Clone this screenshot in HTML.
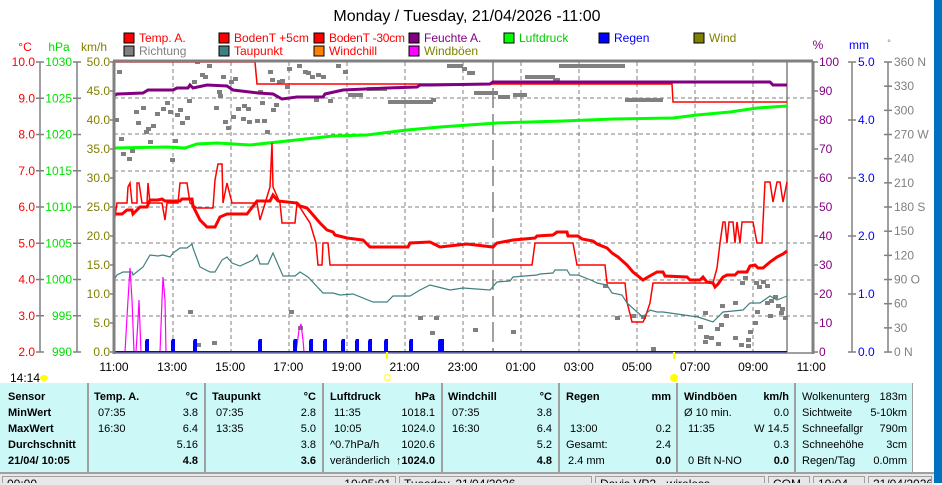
<!DOCTYPE html>
<html><head><meta charset="utf-8"><style>
body{margin:0;width:942px;height:483px;overflow:hidden;background:#fff;font-family:"Liberation Sans",sans-serif;position:relative}
.a{position:absolute;white-space:nowrap}
.pan{position:absolute;top:383px;height:89px;background:#ccf8f8}
.info{font-size:11px;color:#000}
.info .a{line-height:14px}
.b{font-weight:bold}
.sb{position:absolute;top:476px;height:7px;overflow:hidden;border:1px solid #a0a0a0;border-bottom:none;font-size:12px;line-height:14px;padding:0 4px;box-sizing:border-box;background:#e8e8e8}
</style></head><body>
<svg class="a" style="left:0;top:0" width="942" height="483" font-family="Liberation Sans, sans-serif">
<text x="467" y="21" font-size="16" text-anchor="middle">Monday / Tuesday, 21/04/2026  -11:00</text>
<g font-size="12">
<rect x="124" y="33" width="10" height="10" fill="#f00" stroke="#000"/><text x="139" y="42" fill="#f00">Temp. A.</text>
<rect x="219" y="33" width="10" height="10" fill="#f00" stroke="#000"/><text x="234" y="42" fill="#f00">BodenT +5cm</text>
<rect x="314" y="33" width="10" height="10" fill="#f00" stroke="#000"/><text x="329" y="42" fill="#f00" textLength="76">BodenT -30cm</text>
<rect x="409" y="33" width="10" height="10" fill="#800080" stroke="#000"/><text x="424" y="42" fill="#800080">Feuchte A.</text>
<rect x="504" y="33" width="10" height="10" fill="#00ff00" stroke="#000"/><text x="519" y="42" fill="#00cc00">Luftdruck</text>
<rect x="599" y="33" width="10" height="10" fill="#0000ff" stroke="#000"/><text x="614" y="42" fill="#0000ff">Regen</text>
<rect x="694" y="33" width="10" height="10" fill="#808000" stroke="#000"/><text x="709" y="42" fill="#808000">Wind</text>
<rect x="124" y="46" width="10" height="10" fill="#808080" stroke="#000"/><text x="139" y="55" fill="#808080">Richtung</text>
<rect x="219" y="46" width="10" height="10" fill="#408080" stroke="#000"/><text x="234" y="55" fill="#f00">Taupunkt</text>
<rect x="314" y="46" width="10" height="10" fill="#ff8000" stroke="#000"/><text x="329" y="55" fill="#f00">Windchill</text>
<rect x="409" y="46" width="10" height="10" fill="#ff00ff" stroke="#000"/><text x="424" y="55" fill="#808000">Windböen</text>
</g>
<g font-size="12">
<text x="25" y="51" fill="#f00" text-anchor="middle">°C</text>
<text x="59" y="51" fill="#00e000" text-anchor="middle">hPa</text>
<text x="94" y="51" fill="#808000" text-anchor="middle">km/h</text>
<text x="818" y="49" fill="#800080" text-anchor="middle">%</text>
<text x="859" y="49" fill="#0000ff" text-anchor="middle">mm</text>
<text x="889" y="46" fill="#808080" text-anchor="middle" font-size="9">°</text>
</g>
<g stroke="#808080" stroke-width="1.5">
<line x1="40" y1="62" x2="40" y2="352"/><line x1="77" y1="62" x2="77" y2="352"/>
<line x1="852" y1="62" x2="852" y2="352"/><line x1="888" y1="62" x2="888" y2="352"/>
</g>
<g font-size="12" id="ax"></g>
<g stroke="#808080" stroke-dasharray="4,3" stroke-width="1">
<line x1="114" x2="813" y1="98" y2="98"/><line x1="114" x2="813" y1="134" y2="134"/><line x1="114" x2="813" y1="171" y2="171"/><line x1="114" x2="813" y1="207" y2="207"/><line x1="114" x2="813" y1="243" y2="243"/><line x1="114" x2="813" y1="280" y2="280"/><line x1="114" x2="813" y1="316" y2="316"/>
<line x1="173" x2="173" y1="62" y2="352"/><line x1="231" x2="231" y1="62" y2="352"/><line x1="289" x2="289" y1="62" y2="352"/><line x1="347" x2="347" y1="62" y2="352"/><line x1="405" x2="405" y1="62" y2="352"/><line x1="463" x2="463" y1="62" y2="352"/><line x1="521" x2="521" y1="62" y2="352"/><line x1="579" x2="579" y1="62" y2="352"/><line x1="637" x2="637" y1="62" y2="352"/><line x1="695" x2="695" y1="62" y2="352"/><line x1="753" x2="753" y1="62" y2="352"/>
</g>
<line x1="493" x2="493" y1="62" y2="352" stroke="#808080" stroke-dasharray="20,6" stroke-width="1.5"/>
<line x1="787" x2="787" y1="62" y2="352" stroke="#808080" stroke-width="1.5"/>
<g fill="#808080" id="dots"></g>
<g stroke="#808080" stroke-width="4">
<line x1="348" x2="363" y1="95" y2="95"/><line x1="367" x2="387" y1="89" y2="89"/><line x1="388" x2="433" y1="102" y2="102"/>
<line x1="447" x2="463" y1="66" y2="66"/><line x1="462" x2="467" y1="69" y2="69"/><line x1="467" x2="475" y1="73" y2="73"/><line x1="525" x2="555" y1="77" y2="77"/><line x1="553" x2="560" y1="80" y2="80"/><line x1="474" x2="498" y1="93" y2="93"/><line x1="498" x2="510" y1="97" y2="97"/><line x1="513" x2="527" y1="95" y2="95"/><line x1="559" x2="625" y1="66" y2="66"/><line x1="625" x2="663" y1="100" y2="100"/>
</g>
<polyline fill="none" stroke="#f00" stroke-width="1.5" points="114,62 255,62 257,84 672,84 673,102 787,102"/>
<polyline fill="none" stroke="#800080" stroke-width="3" points="114,96 117,94 143,93 148,90 173,90 177,88 188,88 190,85 193,88 207,85 227,86 230,88 233,90 258,93 273,94 282,99 297,97 323,97 325,94 343,90 387,88 417,87 420,85 430,85 490,84 493,82 770,82 773,85 787,85"/>
<polyline fill="none" stroke="#00ff00" stroke-width="3" points="114,148 167,147 185,148 197,144 217,143 250,145 287,141 333,136 367,135 407,130 440,127 497,123 563,121 613,119 673,118 697,115 730,112 757,108 787,106"/>
<polyline fill="none" stroke="#f00" stroke-width="1.5" points="114,223 117,203 127,203 128,187 130,183 132,203 137,203 137,183 139,183 142,203 147,203 148,183 150,203 162,203 165,220 167,203 178,203 180,183 187,183 190,203 197,208 213,208 215,180 218,164 222,164 223,203 227,183 232,203 257,203 260,220 270,187 272,143 273,187 280,203 282,223 295,223 297,203 310,223 316,243 318,265 322,265 323,243 328,243 330,265 532,265 535,243 573,243 577,265 605,265 607,283 625,283 627,302 632,322 643,322 645,318 650,303 653,283 713,283 717,268 720,243 723,222 725,222 727,243 729,222 733,222 735,243 737,222 740,243 742,222 753,222 757,243 762,243 765,182 770,182 773,202 777,182 780,182 783,202 787,182"/>
<polyline fill="none" stroke="#f00" stroke-width="3" points="114,214 122,214 127,210 132,210 133,214 140,207 147,207 150,200 158,200 162,199 165,201 180,201 182,199 192,199 193,206 200,220 207,227 215,227 220,217 227,214 247,214 257,201 270,201 273,195 278,201 297,203 300,206 307,208 320,223 327,230 333,232 335,235 347,238 363,240 370,247 408,247 410,243 430,242 440,247 467,244 493,247 497,243 513,240 535,238 537,236 553,235 557,232 567,232 568,236 578,236 582,239 593,241 597,244 607,248 612,253 618,257 627,265 633,272 643,280 648,277 657,272 663,272 665,276 687,277 690,280 700,280 703,277 707,282 713,283 715,287 718,284 723,277 727,275 735,275 738,272 747,272 750,266 755,265 758,268 763,268 770,262 777,257 783,254 787,251"/>
<polyline fill="none" stroke="#408080" stroke-width="1.2" points="114,280 117,275 123,272 132,272 133,275 143,267 150,255 158,256 163,255 170,257 173,253 180,248 187,248 192,244 193,248 200,267 210,272 215,272 222,260 227,257 232,263 240,266 253,260 257,255 260,264 268,264 273,253 283,276 295,276 300,272 308,277 323,293 333,293 340,295 353,294 373,302 387,302 393,296 410,296 420,290 430,285 450,290 463,288 490,290 497,282 510,281 513,277 537,275 540,274 553,273 555,270 567,270 570,275 578,275 593,281 597,283 607,285 612,293 622,295 627,303 637,312 643,317 650,310 657,312 663,312 670,313 698,317 713,322 723,312 743,310 750,303 760,303 770,296 777,300 787,296"/>
<polyline fill="none" stroke="#ff00ff" stroke-width="1.2" points="125,352 128,300 130,268 132,300 134,352 136,352 138,320 139,300 141,352 160,352 162,300 163,277 165,300 166,352"/>
<polyline fill="none" stroke="#ff00ff" stroke-width="1.2" points="296,352 299,330 301,324 303,340 304,352"/>
<g fill="#0000ff" id="rain"></g>
<line x1="114" x2="787" y1="352" y2="352" stroke="#0000ff" stroke-width="2"/>
<g stroke="#808080" fill="none">
<line x1="113" y1="61" x2="813" y2="61" stroke-width="3"/>
<line x1="114" y1="61" x2="114" y2="354" stroke-width="3"/>
<line x1="813" y1="61" x2="813" y2="354" stroke-width="3"/>
<line x1="114" y1="353" x2="813" y2="353" stroke-width="1.5"/>
</g>
<g font-size="12" id="tl"></g>
<text x="10" y="382" font-size="12">14:14</text>
<ellipse cx="44" cy="378" rx="4" ry="3" fill="#ffff00"/>
<rect x="386" y="352" width="2" height="7" fill="#ffff00"/>
<rect x="385" y="375" width="5" height="5" fill="none" stroke="#ffff00"/>
<rect x="673" y="352" width="2" height="7" fill="#ffff00"/>
<circle cx="674" cy="378" r="4" fill="#ffff00"/>
</svg>
<div class="pan" style="left:0;width:913px"></div>
<div class="a" style="left:934px;top:0;width:8px;height:483px;background:#0070c0"></div>
<div class="a" style="left:0;top:472px;width:934px;height:11px;background:#e8e8e8;border-top:2px solid #a0a0a0"></div>
<div class="sb" style="left:2px;width:394px">00:00<span style="float:right">10:05:01</span></div>
<div class="sb" style="left:399px;width:193px">Tuesday, 21/04/2026</div>
<div class="sb" style="left:595px;width:170px">Davis VP2 - wireless</div>
<div class="sb" style="left:768px;width:42px">COM 3</div>
<div class="sb" style="left:813px;width:52px">10:04</div>
<div class="sb" style="left:868px;width:64px">21/04/2026</div>
<svg class="a" style="left:0;top:383px" width="913" height="89">
<g stroke="#a0a0a0" stroke-width="2"><line x1="88" x2="88" y1="0" y2="89"/><line x1="205" x2="205" y1="0" y2="89"/><line x1="323" x2="323" y1="0" y2="89"/><line x1="442" x2="442" y1="0" y2="89"/><line x1="559" x2="559" y1="0" y2="89"/><line x1="677" x2="677" y1="0" y2="89"/><line x1="795" x2="795" y1="0" y2="89"/><line x1="913" x2="913" y1="0" y2="89"/></g>
</svg>
<div class="info">
<div class="a b" style="left:8px;top:390px">Sensor</div>
<div class="a b" style="left:8px;top:406px">MinWert</div>
<div class="a b" style="left:8px;top:422px">MaxWert</div>
<div class="a b" style="left:8px;top:438px">Durchschnitt</div>
<div class="a b" style="left:8px;top:454px">21/04/ 10:05</div>
<div class="a b" style="left:94px;top:390px">Temp. A.</div><div class="a b" style="right:744px;top:390px">°C</div>
<div class="a" style="left:98px;top:406px">07:35</div><div class="a" style="right:744px;top:406px">3.8</div>
<div class="a" style="left:98px;top:422px">16:30</div><div class="a" style="right:744px;top:422px">6.4</div>
<div class="a" style="right:744px;top:438px">5.16</div>
<div class="a b" style="right:744px;top:454px">4.8</div>
<div class="a b" style="left:212px;top:390px">Taupunkt</div><div class="a b" style="right:626px;top:390px">°C</div>
<div class="a" style="left:216px;top:406px">07:35</div><div class="a" style="right:626px;top:406px">2.8</div>
<div class="a" style="left:216px;top:422px">13:35</div><div class="a" style="right:626px;top:422px">5.0</div>
<div class="a" style="right:626px;top:438px">3.8</div>
<div class="a b" style="right:626px;top:454px">3.6</div>
<div class="a b" style="left:330px;top:390px">Luftdruck</div><div class="a b" style="right:507px;top:390px">hPa</div>
<div class="a" style="left:334px;top:406px">11:35</div><div class="a" style="right:507px;top:406px">1018.1</div>
<div class="a" style="left:334px;top:422px">10:05</div><div class="a" style="right:507px;top:422px">1024.0</div>
<div class="a" style="left:330px;top:438px">^0.7hPa/h</div><div class="a" style="right:507px;top:438px">1020.6</div>
<div class="a" style="left:330px;top:454px">veränderlich</div><div class="a b" style="right:507px;top:454px">↑1024.0</div>
<div class="a b" style="left:448px;top:390px">Windchill</div><div class="a b" style="right:390px;top:390px">°C</div>
<div class="a" style="left:452px;top:406px">07:35</div><div class="a" style="right:390px;top:406px">3.8</div>
<div class="a" style="left:452px;top:422px">16:30</div><div class="a" style="right:390px;top:422px">6.4</div>
<div class="a" style="right:390px;top:438px">5.2</div>
<div class="a b" style="right:390px;top:454px">4.8</div>
<div class="a b" style="left:566px;top:390px">Regen</div><div class="a b" style="right:271px;top:390px">mm</div>
<div class="a" style="left:570px;top:422px">13:00</div><div class="a" style="right:271px;top:422px">0.2</div>
<div class="a" style="left:566px;top:438px">Gesamt:</div><div class="a" style="right:271px;top:438px">2.4</div>
<div class="a" style="left:568px;top:454px">2.4 mm</div><div class="a b" style="right:271px;top:454px">0.0</div>
<div class="a b" style="left:684px;top:390px">Windböen</div><div class="a b" style="right:153px;top:390px">km/h</div>
<div class="a" style="left:684px;top:406px">Ø 10 min.</div><div class="a" style="right:153px;top:406px">0.0</div>
<div class="a" style="left:688px;top:422px">11:35</div><div class="a" style="right:153px;top:422px">W 14.5</div>
<div class="a" style="right:153px;top:438px">0.3</div>
<div class="a" style="left:688px;top:454px">0 Bft N-NO</div><div class="a b" style="right:153px;top:454px">0.0</div>
<div class="a" style="left:802px;top:390px">Wolkenunterg</div><div class="a" style="right:35px;top:390px">183m</div>
<div class="a" style="left:802px;top:406px">Sichtweite</div><div class="a" style="right:35px;top:406px">5-10km</div>
<div class="a" style="left:802px;top:422px">Schneefallgr</div><div class="a" style="right:35px;top:422px">790m</div>
<div class="a" style="left:802px;top:438px">Schneehöhe</div><div class="a" style="right:35px;top:438px">3cm</div>
<div class="a" style="left:802px;top:454px">Regen/Tag</div><div class="a" style="right:35px;top:454px">0.0mm</div>
</div>
<script>
var ns="http://www.w3.org/2000/svg";
function T(g,x,y,s,c,a){var t=document.createElementNS(ns,"text");t.setAttribute("x",x);t.setAttribute("y",y);t.setAttribute("fill",c);if(a)t.setAttribute("text-anchor",a);t.textContent=s;g.appendChild(t);}
function L(g,x1,y1,x2,y2){var l=document.createElementNS(ns,"line");l.setAttribute("x1",x1);l.setAttribute("y1",y1);l.setAttribute("x2",x2);l.setAttribute("y2",y2);l.setAttribute("stroke","#808080");l.setAttribute("stroke-width","1.5");g.appendChild(l);}
var ax=document.getElementById("ax");
for(var i=0;i<=8;i++){var y=62+i*36.25;T(ax,35,y+4,(10-i).toFixed(1),"#f00","end");L(ax,36,y,44,y);}
for(var i=0;i<=8;i++){var y=62+i*36.25;T(ax,72,y+4,1030-5*i,"#00e000","end");L(ax,73,y,81,y);}
for(var i=0;i<=10;i++){var y=62+i*29;T(ax,110,y+4,(50-5*i).toFixed(1),"#808000","end");L(ax,110,y,114,y);}
for(var i=0;i<=10;i++){var y=62+i*29;T(ax,819,y+4,100-10*i,"#800080");L(ax,813,y,818,y);}
for(var i=0;i<=5;i++){var y=62+i*58;T(ax,858,y+4,(5-i).toFixed(1),"#0000ff");L(ax,848,y,856,y);}
var dl={0:" N",3:" W",6:" S",9:"  O",12:"  N"};
for(var i=0;i<=12;i++){var y=62+i*24.17;T(ax,894,y+4,(360-30*i)+(dl[i]||""),"#808080");L(ax,884,y,892,y);}
var tl=document.getElementById("tl");var hs=["11","13","15","17","19","21","23","01","03","05","07","09","11"];
for(var i=0;i<13;i++)T(tl,114+i*58.1,371,hs[i]+":00","#000","middle");
var d=[[119,72],[116,120],[121,139],[123,154],[129,159],[132,151],[136,112],[138,123],[143,108],[146,132],[148,129],[150,142],[153,126],[157,114],[163,109],[167,103],[170,112],[172,160],[175,141],[177,115],[180,110],[182,123],[187,118],[189,101],[194,82],[197,62],[202,75],[205,77],[209,66],[216,108],[219,92],[220,96],[223,77],[225,122],[228,128],[231,82],[233,117],[235,79],[238,109],[243,119],[244,106],[248,109],[249,122],[257,121],[260,92],[262,103],[264,121],[267,132],[270,72],[272,80],[273,110],[276,105],[279,82],[282,81],[287,87],[289,69],[299,66],[305,72],[308,73],[312,77],[318,75],[323,77],[316,100],[330,101],[338,66],[345,72],[433,100],[190,312],[198,345],[214,343],[291,312],[300,328],[420,318],[436,318],[432,333],[475,330],[513,332],[605,286],[617,318],[633,316],[643,317],[705,313],[706,337],[711,338],[722,306],[726,316],[735,303],[742,283],[745,278],[756,283],[763,282],[767,286],[759,287],[700,327],[705,342],[717,329],[721,325],[718,344],[735,338],[741,345],[748,340],[750,332],[755,323],[767,303],[771,301],[775,297],[778,306],[781,313],[782,309],[785,318],[770,316],[757,312],[653,349],[748,346]];
var dg=document.getElementById("dots");
d.forEach(function(p){var r=document.createElementNS(ns,"rect");r.setAttribute("x",p[0]-2);r.setAttribute("y",p[1]-2);r.setAttribute("width",5);r.setAttribute("height",4);dg.appendChild(r);});
var rb=[145,171,193,258,293,309,323,341,355,368,384,409,438,440];
var rg=document.getElementById("rain");
rb.forEach(function(x){var r=document.createElementNS(ns,"path");r.setAttribute("d","M"+x+",352 L"+x+",341 L"+(x+1)+",339 L"+(x+4)+",339 L"+(x+4)+",352 Z");rg.appendChild(r);});
</script>
</body></html>
